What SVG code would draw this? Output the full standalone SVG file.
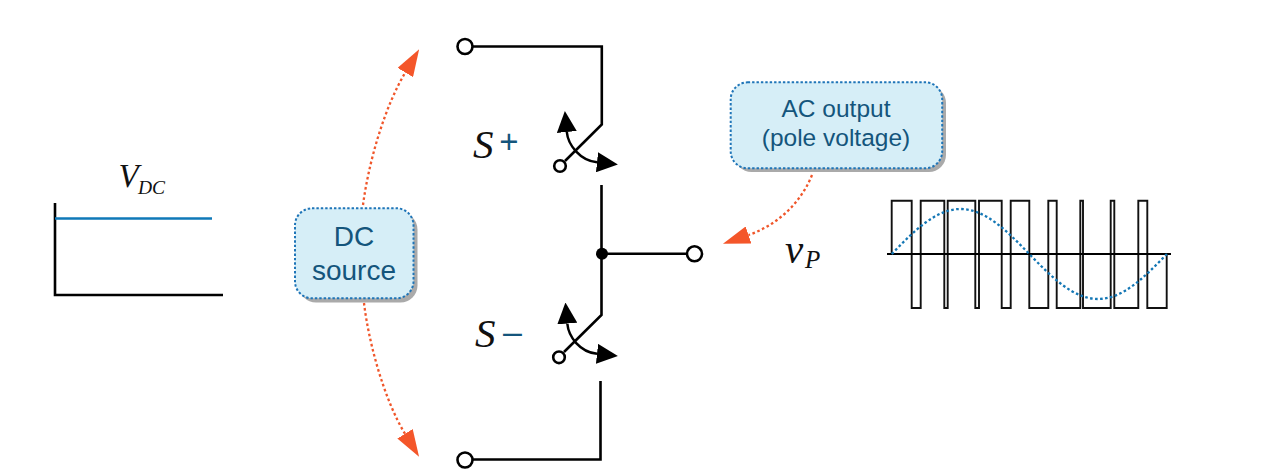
<svg xmlns="http://www.w3.org/2000/svg" width="1281" height="476" viewBox="0 0 1281 476">
<style>
.wire{fill:none;stroke:#000;stroke-width:2.6}
.thin{fill:none;stroke:#111;stroke-width:1.9}
.term{fill:#fff;stroke:#000;stroke-width:2.6}
.pick{fill:none;stroke:#000;stroke-width:2.5;marker-start:url(#blackStart);marker-end:url(#black)}
.call{fill:none;stroke:#f0562a;stroke-width:2.3;stroke-dasharray:2.6 2.6;marker-end:url(#orange)}
.box{fill:#d6eef7;stroke:#1f75b8;stroke-width:2;stroke-dasharray:2.4 2}
.shadow{fill:#aaa}
.lbl{font-family:"Liberation Sans",Arial,sans-serif;fill:#14557c;text-anchor:middle}
.math{font-family:"Liberation Serif","Times New Roman",serif;font-style:italic;fill:#111}
</style>
<defs>
<marker id="orange" viewBox="0 0 27 18" markerWidth="27" markerHeight="18" markerUnits="userSpaceOnUse" refX="0" refY="9" orient="auto"><path d="M0 0L27 9L0 18Z" fill="#f4562a"/></marker>
<marker id="black" viewBox="0 0 21 20" markerWidth="21" markerHeight="20" markerUnits="userSpaceOnUse" refX="0" refY="10" orient="auto"><path d="M0 0L21 10L0 20Z" fill="#000"/></marker>
<marker id="blackStart" viewBox="0 0 21 20" markerWidth="21" markerHeight="20" markerUnits="userSpaceOnUse" refX="0" refY="10" orient="auto-start-reverse"><path d="M0 0L21 10L0 20Z" fill="#000"/></marker>
</defs>

<g id="connectors">
<path class="wire" d="M473 46.500H601.800V124.500L565 161"/>
<path class="wire" d="M601.500 185V315L564 352"/>
<path class="wire" d="M600.500 381V459.500H473"/>
<path class="wire" d="M602 253.800H686"/>
<path class="pick" d="M566.800 132C568 145 580 160.500 597 162.300"/>
<path class="pick" d="M567.300 323.500C568.500 337 580 352 597 353.800"/>
<path class="call" d="M363 205C369 160 385 106.500 405.300 72.500"/>
<path class="call" d="M364 303C369 345 385 401 405 433.800"/>
<path class="call" d="M812 175C800 205 775 226 748.500 235"/>
</g>

<g id="terminal-top"><circle class="term" cx="465" cy="46.500" r="7.500"/></g>
<g id="terminal-bottom"><circle class="term" cx="465" cy="460" r="7.500"/></g>
<g id="terminal-output"><circle class="term" cx="694.500" cy="253.800" r="7.500"/></g>
<g id="junction"><circle cx="602" cy="253.800" r="6" fill="#000"/></g>

<g id="switch-upper">
<circle class="term" cx="560" cy="166" r="5.800"/>
<text class="math" x="473" y="158" font-size="41">S</text>
<text class="lbl" x="509" y="153" font-size="33">+</text>
</g>
<g id="switch-lower">
<circle class="term" cx="559" cy="357.300" r="5.800"/>
<text class="math" x="475" y="347" font-size="41">S</text>
<text class="lbl" x="512.500" y="343" font-size="34">–</text>
</g>

<g id="vdc-plot">
<path class="wire" d="M55 203V295H223"/>
<path d="M55 218.500H212" fill="none" stroke="#0f79b8" stroke-width="2.300"/>
<text class="math" x="118.500" y="187" font-size="33">V</text>
<text class="math" x="138" y="194" font-size="19.500">DC</text>
</g>

<g id="dc-source">
<rect class="shadow" x="299" y="212.500" width="118.500" height="90" rx="17"/>
<rect class="box" x="295" y="208.300" width="118.500" height="90" rx="17"/>
<text class="lbl" x="354" y="246" font-size="28">DC</text>
<text class="lbl" x="354" y="280" font-size="28">source</text>
</g>

<g id="ac-output">
<rect class="shadow" x="734.500" y="86" width="211.500" height="86" rx="17"/>
<rect class="box" x="730.700" y="82.300" width="211.500" height="86" rx="17"/>
<text class="lbl" x="836" y="117" font-size="24.500">AC output</text>
<text class="lbl" x="836" y="145.500" font-size="24.500">(pole voltage)</text>
</g>

<g id="vp-label">
<text class="math" x="785" y="263" font-size="41">v</text>
<text class="math" x="805" y="268" font-size="25">P</text>
</g>

<g id="pwm-plot">
<path class="thin" d="M891.700 254V200.700H911.700V308H920.700V200.700H944.300V308H947.700V200.700H975.300V308H979V200.700H1001.700V308H1010.700V200.700H1029.300V308H1048.300V200.700H1056.700V308H1080.300V200.700H1083V308H1110.700V200.700H1114.300V308H1138.300V200.700H1147.300V308H1166.700V254"/>
<path d="M887 254H1171" fill="none" stroke="#000" stroke-width="2"/>
<path d="M891.700 254C914.100 230.900 935.600 209 960.500 209C985.400 209 1006.900 230.900 1029.300 254C1051.700 277.100 1073.200 299 1098.100 299C1123 299 1144.500 277.100 1166.900 254" fill="none" stroke="#1477b5" stroke-width="2.300" stroke-dasharray="2.600 2.400"/>
</g>
</svg>
